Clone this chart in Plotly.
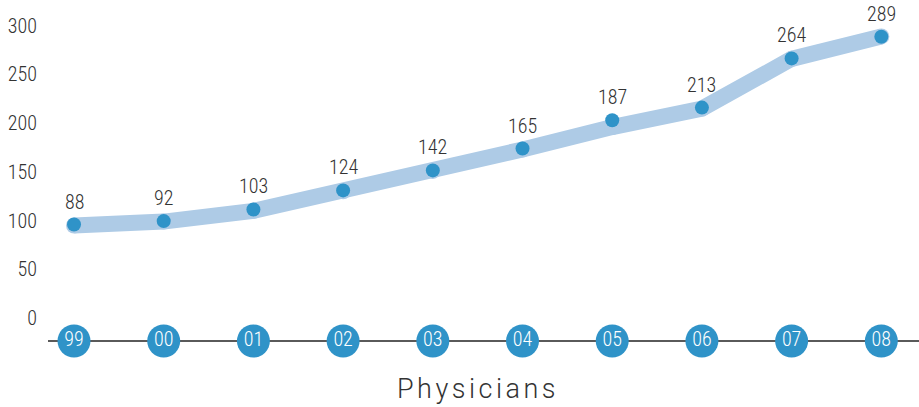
import plotly.graph_objects as go

years = ["99", "00", "01", "02", "03", "04", "05", "06", "07", "08"]
labels = [88, 92, 103, 124, 142, 165, 187, 213, 264, 289]
dot_y = [96, 99.5, 111.4, 131, 151.5, 174, 203, 216, 266.5, 288.7]
band_y = [95, 99, 110, 130, 151, 173, 196, 215, 266, 289]
yticks = [0, 50, 100, 150, 200, 250, 300]

xs = list(range(len(years)))
AXIS_Y = -23.6
NARROW = "Roboto Condensed, Liberation Sans Narrow, sans-serif"

fig = go.Figure()
fig.add_shape(type="line", xref="paper", x0=0, x1=1, yref="y", y0=AXIS_Y, y1=AXIS_Y,
              line=dict(color="#5a5a5a", width=2), layer="below")
fig.add_trace(go.Scatter(x=xs, y=band_y, mode="lines+markers",
                         line=dict(color="#aecbe6", width=16),
                         marker=dict(color="#aecbe6", size=16),
                         hoverinfo="skip", showlegend=False))
fig.add_trace(go.Scatter(x=xs, y=dot_y, mode="markers",
                         marker=dict(color="#2f93c8", size=14),
                         cliponaxis=False, showlegend=False))
for x, y, v in zip(xs, dot_y, labels):
    fig.add_annotation(x=x, y=y, text=str(v), showarrow=False, yshift=23,
                       xanchor="center", yanchor="middle",
                       font=dict(family=NARROW, size=20, color="#333333", weight=300))
fig.add_trace(go.Scatter(x=xs, y=[AXIS_Y] * len(xs), mode="markers+text",
                         marker=dict(color="#2f93c8", size=33),
                         text=years, textposition="middle center",
                         textfont=dict(family=NARROW, size=20, color="#ffffff", weight=300),
                         cliponaxis=False, showlegend=False))

fig.add_annotation(xref="paper", yref="paper", x=0.494, y=-0.095,
                   text='<span style="letter-spacing:3.5px">Physicians</span>',
                   showarrow=False, xanchor="center", yanchor="middle",
                   font=dict(family="Roboto, Lato, sans-serif", size=27, color="#333333", weight=300))

fig.update_layout(
    width=919, height=407,
    margin=dict(l=48, r=0, t=16, b=50),
    paper_bgcolor="white", plot_bgcolor="white",
    xaxis=dict(range=[-0.29, 9.42], showgrid=False, zeroline=False, showticklabels=False,
               showline=False, fixedrange=True),
    yaxis=dict(range=[-40, 310], tickvals=yticks, ticktext=[str(t) for t in yticks],
               showgrid=False, zeroline=False, showline=False, ticks="",
               ticklabelstandoff=10,
               tickfont=dict(family=NARROW, size=20, color="#333333", weight=300)),
)

fig.write_html("out.html")
